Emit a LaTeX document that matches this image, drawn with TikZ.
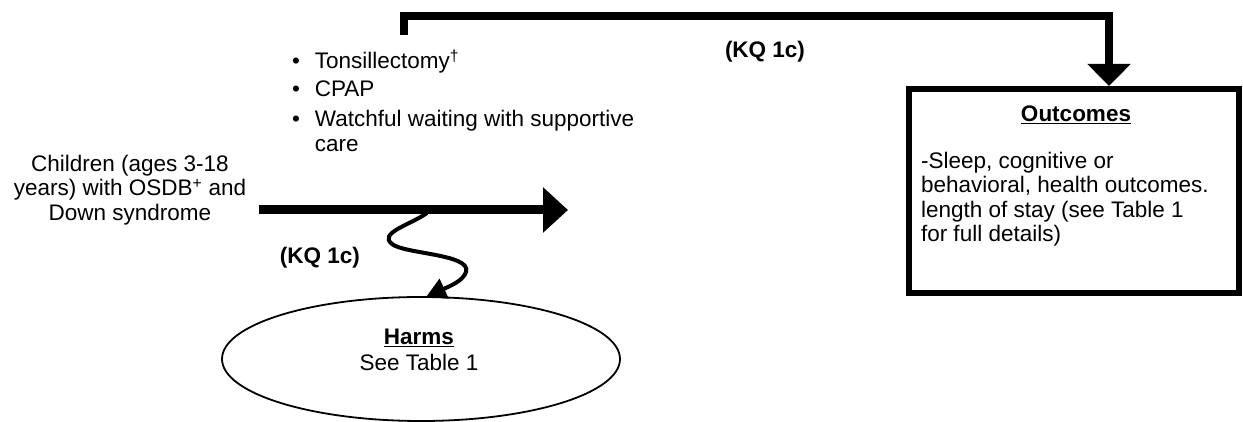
\documentclass[tikz,border=0pt]{standalone}
\usepackage{fontspec}
\setmainfont{Liberation Sans}
\usetikzlibrary{arrows.meta,shapes.geometric}
\begin{document}
\begin{tikzpicture}[x=1pt,y=-1pt,
  txt/.style={font=\fontsize{22.5}{24.5}\selectfont, inner sep=0pt, outer sep=0pt},
  kq/.style={txt, font=\fontsize{22.5}{24.5}\selectfont\bfseries},
  thickline/.style={line width=8pt},
  bigtip/.style={-{Triangle[length=22pt,width=42pt]}},
  maintip/.style={-{Triangle[length=25pt,width=44pt]}},
  smalltip/.style={-{Triangle[length=20pt,width=21pt]}},
  outbox/.style={draw, line width=6pt, minimum width=330pt, minimum height=204pt, inner sep=0pt},
  harmsell/.style={draw, ellipse, line width=1.8pt, minimum width=398pt, minimum height=124pt, inner sep=0pt}
]
\useasboundingbox[fill=white] (0,0) rectangle (1243,422);

% Outcomes box
\node[outbox] (out) at (1074,191) {};
\node[kq] (outtitle) at (1076,115) {\underline{Outcomes}};
\node[txt, anchor=north west, align=left] (outbody) at (921,151)
  {\begin{tabular}{@{}l@{}}-Sleep, cognitive or\\ behavioral, health outcomes.\\ length of stay (see Table 1\\ for full details)\end{tabular}};

% Interventions list
\node[txt, anchor=north west] (ivs) at (292,50)
  {\begin{tabular}{@{}l@{\hspace{15pt}}l@{}}
   • & Tonsillectomy\textsuperscript{†}\\[3.5pt]
   • & CPAP\\[5.5pt]
   • & Watchful waiting with supportive\\
   & care
   \end{tabular}};

% Population
\node[txt, align=center] (pop) at (130,190)
  {Children (ages 3-18\\ years) with OSDB\textsuperscript{+} and\\ Down syndrome};

% Harms
\node[harmsell] (harms) at (421,359) {};
\node[txt, align=center] (harmstxt) at (419,350) {\textbf{\underline{Harms}}\\[1.5pt] See Table 1};

% KQ labels
\node[kq] (kqtop) at (765,52) {(KQ 1c)};
\node[kq] (kqleft) at (320,258) {(KQ 1c)};

% coordinates
\coordinate (ks) at (404,35);
\coordinate (tr) at (1109,16);
\coordinate (ms) at (259,210);
\coordinate (me) at (568,210);
\coordinate (ws) at (427,213);
\coordinate (harmtop) at (426,297);

% top connector to outcomes
\draw[thickline, bigtip] (ks) |- (tr) -- (tr |- out.north);

% main arrow
\draw[line width=9pt, maintip] (ms) -- (me);

% squiggle to harms
\draw[line width=4pt, smalltip] (ws) .. controls (410,225) and (378,233) .. (392,244)
  .. controls (404,254) and (472,254) .. (466,272)
  .. controls (463,281) and (450,286) .. (harmtop);
\end{tikzpicture}
\end{document}
